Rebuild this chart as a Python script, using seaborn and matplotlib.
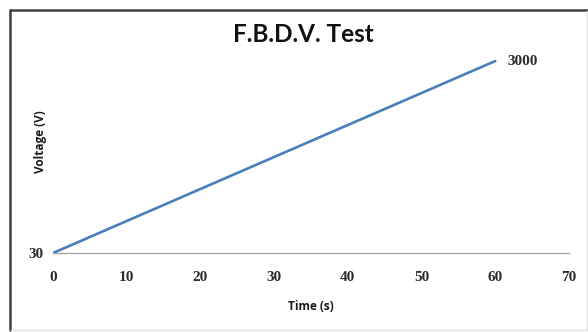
import matplotlib
matplotlib.use("Agg")
import matplotlib.pyplot as plt
import seaborn as sns
import pandas as pd

# Test ramp: voltage rises linearly over one minute
time_s = [0, 60]
voltage_v = [30, 3000]
x_ticks = [0, 10, 20, 30, 40, 50, 60, 70]
y_ticks = [30]
title = "F.B.D.V. Test"
x_label = "Time (s)"
y_label = "Voltage (V)"
end_label = "3000"

sns.set_theme(style="white")
plt.rcParams["font.family"] = ["Lato", "DejaVu Sans"]

df = pd.DataFrame({"Time": time_s, "Voltage": voltage_v})

W, H = 588, 332
fig = plt.figure(figsize=(W / 100, H / 100), dpi=100)
ax = fig.add_axes([53 / W, 1 - 253 / H, (569 - 53) / W, (253 - 40) / H])

sns.lineplot(data=df, x="Time", y="Voltage", ax=ax, color="#4a7ebb", linewidth=1.9)

ax.set_xlim(0, 70)
ax.set_ylim(30, 3325)
ax.set_xticks(x_ticks)
ax.set_yticks(y_ticks)
ax.set_xlabel("")
ax.set_ylabel("")

for s in ["top", "right", "left"]:
    ax.spines[s].set_visible(False)
ax.spines["bottom"].set_color("#a6a6a6")
ax.spines["bottom"].set_linewidth(1.0)

tick_font = dict(family="Liberation Serif", size=11, weight="semibold")
ax.tick_params(axis="x", direction="out", length=4, width=1, color="#a6a6a6",
               pad=9, labelcolor="#2b2b2b")
ax.tick_params(axis="y", length=0, pad=7, labelcolor="#2b2b2b")
for lab in ax.get_xticklabels() + ax.get_yticklabels():
    lab.set_fontfamily("Liberation Serif")
    lab.set_fontsize(11)
    lab.set_fontweight("semibold")

# value label at the end of the ramp
ax.annotate(end_label, xy=(time_s[-1], voltage_v[-1]), xytext=(9, 0),
            textcoords="offset points", ha="left", va="center",
            color="#2b2b2b", **tick_font)

fig.text(303 / W, 1 - 34 / H, title, ha="center", va="center",
         fontsize=17.5, fontweight="bold", color="#111111")
fig.text(311 / W, 1 - 306 / H, x_label, ha="center", va="center",
         family="Open Sans", fontsize=8.5, fontweight="bold", color="#1a1a1a")
fig.text(40 / W, 1 - 142 / H, y_label, ha="center", va="center",
         rotation=90, family="Open Sans", fontsize=8.5, fontweight="bold",
         color="#1a1a1a")

# chart frame: dark on top/left, light on bottom/right
fig.add_artist(plt.Line2D([10 / W, 10 / W], [1 - 330 / H, 1 - 10 / H],
                          transform=fig.transFigure, color="#404040", linewidth=1.8))
fig.add_artist(plt.Line2D([10 / W, 1.0], [1 - 10 / H, 1 - 10 / H],
                          transform=fig.transFigure, color="#404040", linewidth=1.8))
fig.add_artist(plt.Line2D([586.5 / W, 586.5 / W], [1 - 330 / H, 1 - 11 / H],
                          transform=fig.transFigure, color="#e0e0e0", linewidth=1))
fig.add_artist(plt.Line2D([11 / W, 587 / W], [1 - 329.5 / H, 1 - 329.5 / H],
                          transform=fig.transFigure, color="#e0e0e0", linewidth=1))

fig.savefig("out.png", dpi=100, facecolor="white")
